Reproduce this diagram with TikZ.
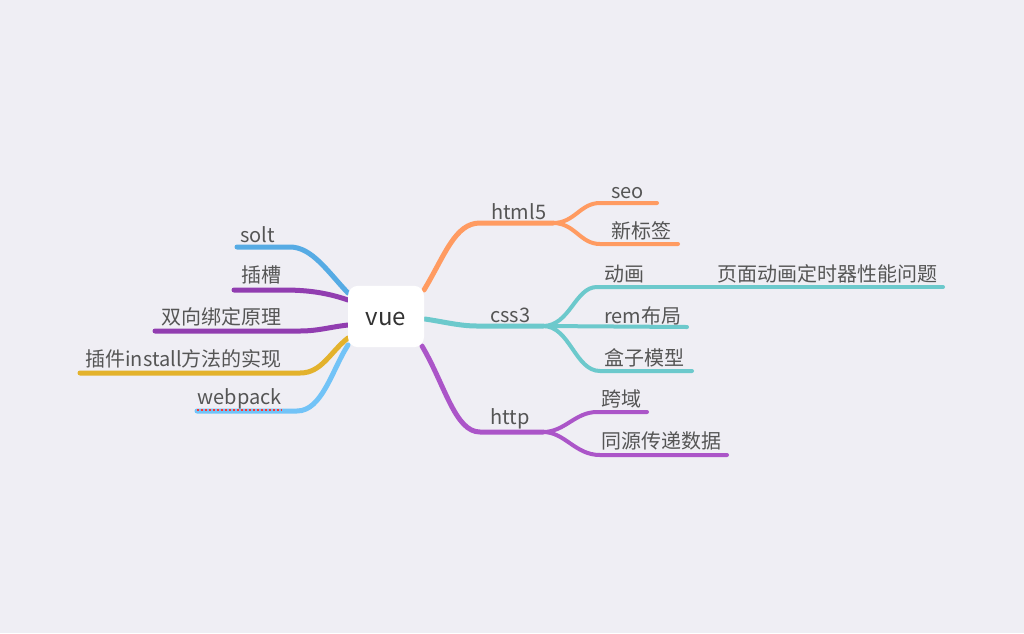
\documentclass[tikz,border=0pt]{standalone}
\usepackage{fontspec}
\setmainfont{Noto Sans CJK SC}
\definecolor{bg}{HTML}{EFEEF4}
\definecolor{txt}{HTML}{555555}
\definecolor{cSolt}{HTML}{56ABE4}
\definecolor{cPurple}{HTML}{913DB0}
\definecolor{cGold}{HTML}{E3B22C}
\definecolor{cWeb}{HTML}{72C3F7}
\definecolor{cOrange}{HTML}{FF9B61}
\definecolor{cTeal}{HTML}{6CC9CC}
\definecolor{cHttp}{HTML}{AB55C8}
\tikzset{
  lbl/.style={inner sep=0pt, text=txt, font=\fontsize{15}{18}\selectfont},
  mainln/.style={line width=3.75pt, line cap=round},
  subln/.style={line width=3pt, line cap=round},
}
\begin{document}
\begin{tikzpicture}[x=0.75pt,y=-0.75pt]
\fill[bg] (0,0) rectangle (1024,633);
\useasboundingbox (0,0) rectangle (1024,633);

% ---- coordinates ----
% left
\coordinate (sS) at (348,293); \coordinate (sM) at (290,247); \coordinate (sE) at (237,247);
\coordinate (cS) at (348,300); \coordinate (cM) at (283,290); \coordinate (cE) at (234,290);
\coordinate (bS) at (348,325); \coordinate (bM) at (300,331); \coordinate (bE) at (155,331);
\coordinate (iS) at (348,338); \coordinate (iM) at (300,373); \coordinate (iE) at (80,373);
\coordinate (wS) at (348,345); \coordinate (wM) at (297,411); \coordinate (wE) at (197,411);
% right
\coordinate (hS) at (424,290); \coordinate (hM) at (480,223); \coordinate (hE) at (553,223);
\coordinate (seoM) at (600,203); \coordinate (seoE) at (657,203);
\coordinate (xbM) at (600,244); \coordinate (xbE) at (678,244);
\coordinate (tS) at (425,319); \coordinate (tM) at (477,326); \coordinate (tE) at (543,326);
\coordinate (dhM) at (597,287); \coordinate (dhE) at (650,287); \coordinate (ymE) at (943,287);
\coordinate (remE) at (687,327);
\coordinate (hzM) at (600,371); \coordinate (hzE) at (692,371);
\coordinate (pS) at (422,346); \coordinate (pM) at (480,432); \coordinate (pE) at (543,432);
\coordinate (kyM) at (597,412); \coordinate (kyE) at (647,412);
\coordinate (tyM) at (600,455); \coordinate (tyE) at (727,455);

% ---- connectors ----
\draw[mainln, cSolt] (sS) .. controls (328,272) and (312,247) .. (sM) -- (sE);
\draw[mainln, cPurple] (cS) .. controls (325,292) and (305,290) .. (cM) -- (cE);
\draw[mainln, cPurple] (bS) .. controls (330,327) and (318,331) .. (bM) -- (bE);
\draw[mainln, cGold] (iS) .. controls (330,352) and (322,373) .. (iM) -- (iE);
\draw[mainln, cWeb] (wS) .. controls (332,370) and (322,411) .. (wM) -- (wE);

\draw[mainln, cOrange] (hS) .. controls (445,255) and (455,223) .. (hM) -- (hE);
\draw[subln, cOrange] (hE) .. controls (575,223) and (580,203) .. (seoM) -- (seoE);
\draw[subln, cOrange] (hE) .. controls (575,223) and (580,244) .. (xbM) -- (xbE);

\draw[mainln, cTeal] (tS) .. controls (445,322) and (460,326) .. (tM) -- (tE);
\draw[subln, cTeal] (tE) .. controls (570,326) and (575,287) .. (dhM) -- (dhE);
\draw[subln, cTeal] (dhE) -- (ymE);
\draw[subln, cTeal] (tE) -- (remE);
\draw[subln, cTeal] (tE) .. controls (570,326) and (575,371) .. (hzM) -- (hzE);

\draw[mainln, cHttp] (pS) .. controls (445,385) and (455,432) .. (pM) -- (pE);
\draw[subln, cHttp] (pE) .. controls (565,432) and (575,412) .. (kyM) -- (kyE);
\draw[subln, cHttp] (pE) .. controls (565,432) and (575,455) .. (tyM) -- (tyE);

% ---- center ----
\node[fill=white, rounded corners=7.5pt, minimum width=57pt, minimum height=46pt, inner sep=0pt] (vue) at (386,316.5) {};
\node[inner sep=0pt, text=black!80, font=\fontsize{18}{20}\selectfont, anchor=base] (vuet) at (386,325) {vue};

% ---- labels ----
\node[lbl, anchor=base east] (solt) at (275,242) {solt};
\node[lbl, anchor=base east] (chacao) at (282,282) {插槽};
\node[lbl, anchor=base east] (bind) at (282,324) {双向绑定原理};
\node[lbl, anchor=base east] (install) at (282,366) {插件install方法的实现};
\node[lbl, anchor=base east] (webpack) at (282,404) {webpack};
\draw[red!80, line width=1pt, dotted] (webpack.south west) ++(0,1) coordinate (wu1) -- (webpack.south east |- wu1);

\node[lbl, anchor=base west] (html) at (491,219) {html5};
\node[lbl, anchor=base west] (seo) at (611,198) {seo};
\node[lbl, anchor=base west] (xbq) at (611,238) {新标签};
\node[lbl, anchor=base west] (css) at (490,322) {css3};
\node[lbl, anchor=base west] (dh) at (604,281) {动画};
\node[lbl, anchor=base west] (ym) at (717,281) {页面动画定时器性能问题};
\node[lbl, anchor=base west] (rem) at (604,323) {rem布局};
\node[lbl, anchor=base west] (hz) at (604,365) {盒子模型};
\node[lbl, anchor=base west] (http) at (490,424) {http};
\node[lbl, anchor=base west] (ky) at (601,406) {跨域};
\node[lbl, anchor=base west] (ty) at (601,448) {同源传递数据};
\end{tikzpicture}
\end{document}
